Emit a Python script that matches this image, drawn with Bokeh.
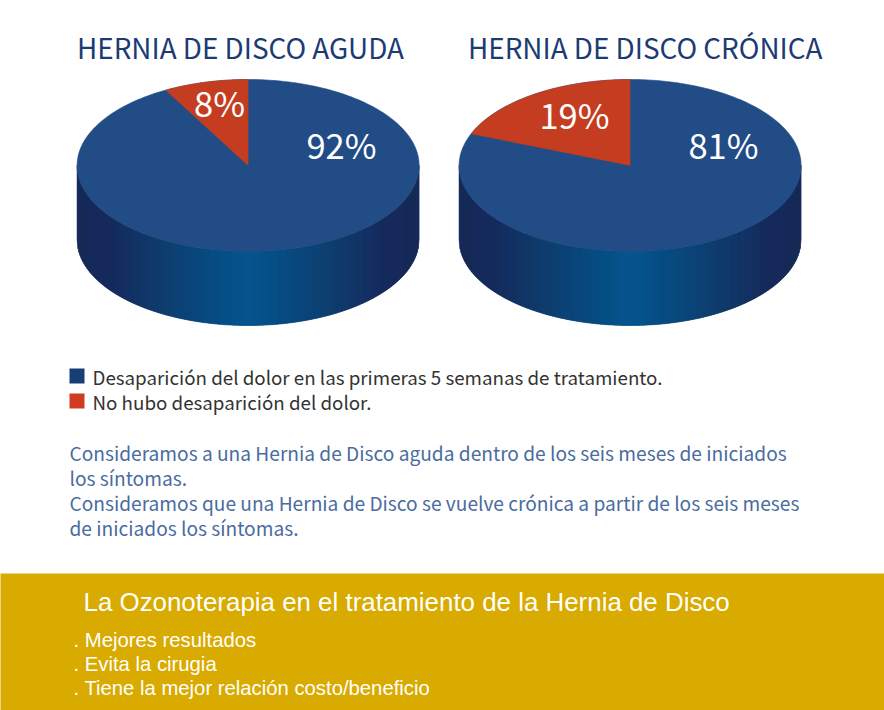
from bokeh.plotting import figure
from bokeh.embed import file_html
from bokeh.resources import INLINE
from bokeh.core.properties import value
import numpy as np

titles = ["HERNIA DE DISCO AGUDA", "HERNIA DE DISCO CRÓNICA"]
relief = [92, 81]
no_relief = [8, 19]
legend_labels = ["Desaparición del dolor en las primeras 5 semanas de tratamiento.",
                 "No hubo desaparición del dolor."]
note_lines = ["Consideramos a una Hernia de Disco aguda dentro de los seis meses de iniciados",
              "los síntomas.",
              "Consideramos que una Hernia de Disco se vuelve crónica a partir de los seis meses",
              "de iniciados los síntomas."]
band_title = "La Ozonoterapia en el tratamiento de la Hernia de Disco"
band_items = [". Mejores resultados", ". Evita la cirugia", ". Tiene la mejor relación costo/beneficio"]

BLUE, RED, GOLD = "#214c86", "#c53d20", "#d9aa00"
LEG_BLUE, LEG_RED = "#163f74", "#cf3c22"
TITLE_C, NOTE_C, LEG_C = "#1c3b73", "#4a6c9f", "#333333"
CJK, HELV = "Noto Sans CJK JP", "Liberation Sans"
GRAD_T = [0.0, 0.1, 0.25, 0.4, 0.5]
GRAD_R, GRAD_G, GRAD_B = [18, 18, 12, 3, 0], [38, 40, 58, 74, 83], [85, 90, 108, 128, 142]
CX, CY, RX, RY, DEPTH = [247.6, 629.6], 165, 171, 86, 74

p = figure(width=884, height=710, x_range=(0, 884), y_range=(710, 0),
           output_backend="svg", toolbar_location=None, min_border=0,
           outline_line_color=None, background_fill_color="white", border_fill_color="white",
           x_axis_type=None, y_axis_type=None)
p.grid.visible = False

def txt(x, y, lines, size, color, font, dy=0, align="left"):
    y = y - 0.4 * size
    p.text([x] * len(lines), [y + i * dy for i in range(len(lines))], text=lines,
           text_font=value(font), text_font_size=value(f"{size}px"), text_color=color,
           text_align=align, text_baseline="alphabetic")

for i, cx in enumerate(CX):
    edges = np.arange(-RX, RX + 0.01, 1.0)
    xs, ys, cols = [], [], []
    for a, b in zip(edges[:-1], edges[1:]):
        t = min(a + RX, RX - b) / (2 * RX) + 0.5 / (2 * RX)
        c = [int(np.interp(t, GRAD_T, g)) for g in (GRAD_R, GRAD_G, GRAD_B)]
        ya = RY * np.sqrt(max(1 - (a / RX) ** 2, 0)); yb = RY * np.sqrt(max(1 - (b / RX) ** 2, 0))
        xs.append([cx + a, cx + b, cx + b, cx + a])
        ys.append([CY + ya, CY + yb, CY + yb + DEPTH, CY + ya + DEPTH])
        cols.append("#%02x%02x%02x" % tuple(c))
    p.patches(xs, ys, fill_color=cols, line_color=cols, line_width=0.6)
    th = np.linspace(0, 2 * np.pi, 361)
    p.patch(cx + RX * np.cos(th), CY + RY * np.sin(th), fill_color=BLUE, line_color=BLUE, line_width=0.6)
    th = np.linspace(0, no_relief[i] / (no_relief[i] + relief[i]) * 2 * np.pi, 80)
    p.patch(np.r_[cx, cx - RX * np.sin(th)], np.r_[CY, CY - RY * np.cos(th)],
            fill_color=RED, line_color=RED, line_width=0.4)

txt(76.5, 58, titles[:1], 27.85, TITLE_C, CJK)
txt(467.5, 58, titles[1:], 27.85, TITLE_C, CJK)
txt(341, 157, [f"{relief[0]}%"], 34.5, "white", CJK, align="center")
txt(723, 157, [f"{relief[1]}%"], 34.5, "white", CJK, align="center")
txt(219, 115, [f"{no_relief[0]}%"], 34.5, "white", CJK, align="center")
txt(574, 127, [f"{no_relief[1]}%"], 34.5, "white", CJK, align="center")

p.quad(left=[69, 69], right=[84, 84], top=[368, 393], bottom=[383, 408],
       fill_color=[LEG_BLUE, LEG_RED], line_color=None)
txt(92, 383, legend_labels, 18.75, LEG_C, CJK, dy=25)
txt(69, 460, note_lines, 19.15, NOTE_C, CJK, dy=25)

p.quad(left=[-3], right=[887], top=[573], bottom=[713], fill_color=GOLD, line_color=None)
txt(83, 612, [band_title], 25.9, "white", HELV)
txt(73, 648, band_items, 20.3, "white", HELV, dy=24)

open("out.html", "w").write(file_html(p, INLINE))
